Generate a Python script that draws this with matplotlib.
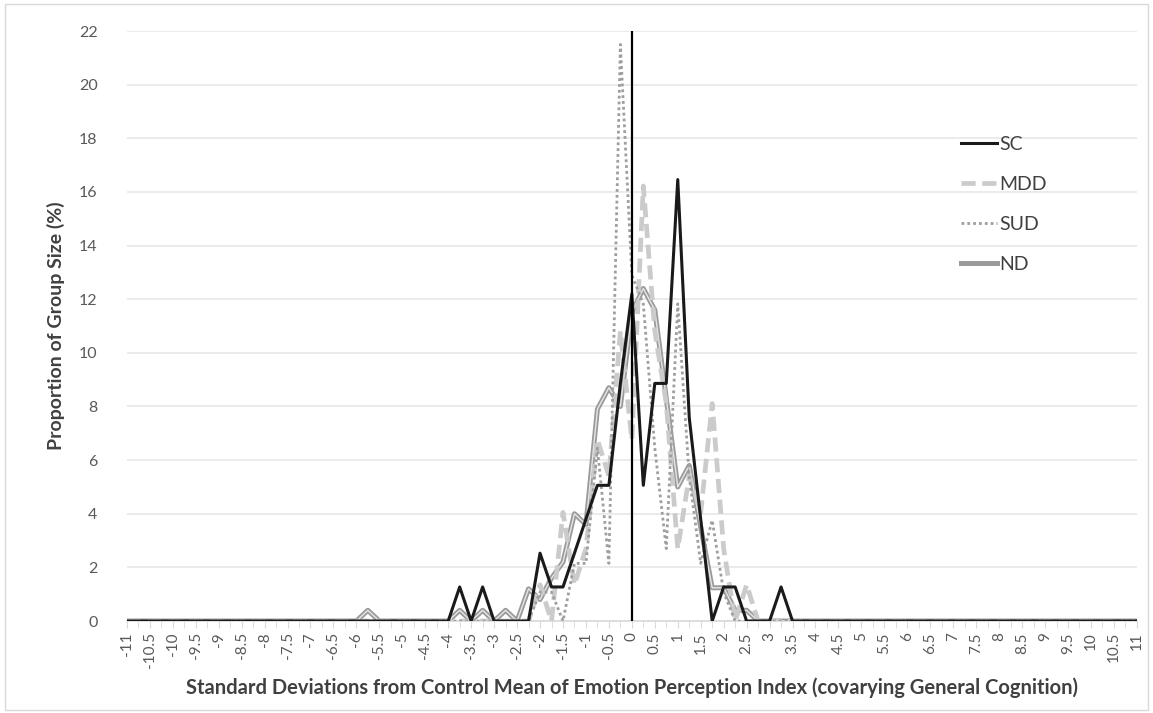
import numpy as np
import matplotlib
matplotlib.use("Agg")
import matplotlib.pyplot as plt
from matplotlib.patches import Rectangle

plt.rcParams['font.family'] = ['Lato', 'DejaVu Sans']

# categories: -11 .. 11 in steps of 0.25 (labels every 0.5)
x_vals = np.arange(-11, 11.001, 0.25)

# each row = 8 categories (2 SD units)
sc = [0, 0, 0, 0, 0, 0, 0, 0,                       # -11 .. -9.25
      0, 0, 0, 0, 0, 0, 0, 0,                       # -9 .. -7.25
      0, 0, 0, 0, 0, 0, 0, 0,                       # -7 .. -5.25
      0, 0, 0, 0, 0, 1.27, 0, 1.27,                 # -5 .. -3.25
      0, 0, 0, 0, 2.53, 1.27, 1.27, 2.53,           # -3 .. -1.25
      3.80, 5.06, 5.06, 8.86, 12.2, 5.06, 8.86, 8.86,    # -1 .. 0.75
      16.46, 7.59, 3.80, 0, 1.27, 1.27, 0, 0,       # 1 .. 2.75
      0, 1.27, 0, 0, 0, 0, 0, 0,                    # 3 .. 4.75
      0, 0, 0, 0, 0, 0, 0, 0,                       # 5 .. 6.75
      0, 0, 0, 0, 0, 0, 0, 0,                       # 7 .. 8.75
      0, 0, 0, 0, 0, 0, 0, 0,                       # 9 .. 10.75
      0]                                            # 11

mdd = [0, 0, 0, 0, 0, 0, 0, 0,
       0, 0, 0, 0, 0, 0, 0, 0,
       0, 0, 0, 0, 0, 0, 0, 0,
       0, 0, 0, 0, 0, 0, 0, 0,
       0, 0, 0, 0, 1.35, 0, 4.05, 1.35,
       2.70, 6.76, 5.41, 10.81, 6.76, 16.22, 10.81, 8.11,
       2.70, 5.41, 4.05, 8.11, 2.70, 0, 1.35, 0,
       0, 0, 0, 0, 0, 0, 0, 0,
       0, 0, 0, 0, 0, 0, 0, 0,
       0, 0, 0, 0, 0, 0, 0, 0,
       0, 0, 0, 0, 0, 0, 0, 0,
       0]

sud = [0, 0, 0, 0, 0, 0, 0, 0,
       0, 0, 0, 0, 0, 0, 0, 0,
       0, 0, 0, 0, 0, 0, 0, 0,
       0, 0, 0, 0, 0, 0, 0, 0,
       0, 0, 0, 0, 1.08, 1.08, 0, 2.15,
       2.15, 6.45, 2.15, 21.5, 12.9, 11.83, 6.45, 2.7,
       11.83, 5.38, 2.15, 3.76, 1.08, 0, 0, 0,
       0, 0, 0, 0, 0, 0, 0, 0,
       0, 0, 0, 0, 0, 0, 0, 0,
       0, 0, 0, 0, 0, 0, 0, 0,
       0, 0, 0, 0, 0, 0, 0, 0,
       0]

nd = [0, 0, 0, 0, 0, 0, 0, 0,
      0, 0, 0, 0, 0, 0, 0, 0,
      0, 0, 0, 0, 0, 0.4, 0, 0,
      0, 0, 0, 0, 0, 0.4, 0, 0.4,
      0, 0.4, 0, 1.2, 0.8, 1.6, 2.2, 4.0,
      3.6, 7.9, 8.7, 8.0, 11.5, 12.4, 11.6, 8.3,
      5.0, 5.8, 3.5, 1.24, 1.24, 0.4, 0.4, 0,
      0, 0, 0, 0, 0, 0, 0, 0,
      0, 0, 0, 0, 0, 0, 0, 0,
      0, 0, 0, 0, 0, 0, 0, 0,
      0, 0, 0, 0, 0, 0, 0, 0,
      0]

y_ticks = np.arange(0, 23, 2)
x_ticks = np.arange(-11, 11.001, 0.5)

fig = plt.figure(figsize=(11.53, 7.13), dpi=100)
ax = fig.add_axes([0.110, 0.129, 0.876, 0.8275])

# frame of the chart area
fig.patches.append(Rectangle((0.004, 0.004), 0.992, 0.990, transform=fig.transFigure,
                             fill=False, edgecolor='#d9d9d9', linewidth=1))

ax.set_xlim(-11, 11)
ax.set_ylim(0, 22)
ax.set_yticks(y_ticks)
ax.yaxis.grid(True, color='#e8e8e8', linewidth=1.2)
ax.set_axisbelow(True)

for s in ['top', 'right', 'left']:
    ax.spines[s].set_visible(False)
ax.spines['bottom'].set_color('#d9d9d9')
ax.spines['bottom'].set_linewidth(1.2)

ax.tick_params(axis='y', length=0, labelsize=11.5, labelcolor='#595959', pad=21)
ax.set_xticks(x_ticks)
ax.set_xticks(x_vals, minor=True)
ax.set_xticklabels(['%g' % v for v in x_ticks], rotation=90)
ax.tick_params(axis='x', which='both', length=5, color='#d9d9d9', labelsize=11,
               labelcolor='#595959', pad=3)

# lines
ax.plot(x_vals, nd, color='#9a9a9a', linewidth=3.6, label='ND', zorder=3)
ax.plot(x_vals, nd, color='#e6e6e6', linewidth=1.0, zorder=3)
ax.plot(x_vals, mdd, color='#cbcbcb', linewidth=3.4, linestyle=(0, (3, 1.4)), label='MDD', zorder=4)
ax.plot(x_vals, sud, color='#9e9e9e', linewidth=2.0, linestyle=(0, (1, 1.1)), label='SUD', zorder=5)
ax.plot(x_vals, sc, color='#1a1a1a', linewidth=2.2, label='SC', zorder=6)

ax.axvline(0, color='black', linewidth=1.6, zorder=7)

handles, labels = ax.get_legend_handles_labels()
order = [labels.index(k) for k in ['SC', 'MDD', 'SUD', 'ND']]
ax.legend([handles[i] for i in order], [labels[i] for i in order],
          loc='upper left', bbox_to_anchor=(0.826, 0.822), frameon=False,
          borderpad=0, borderaxespad=0,
          fontsize=14, handlelength=1.85, handletextpad=0.12, labelspacing=1.18,
          labelcolor='#404040')

ax.set_xlabel('Standard Deviations from Control Mean of Emotion Perception Index (covarying General Cognition)',
              fontsize=14.5, fontweight='bold', color='#404040', labelpad=7)
ax.set_ylabel('Proportion of Group Size (%)', fontsize=14, fontweight='bold',
              color='#404040', labelpad=10)

fig.savefig('out.png', dpi=100)
